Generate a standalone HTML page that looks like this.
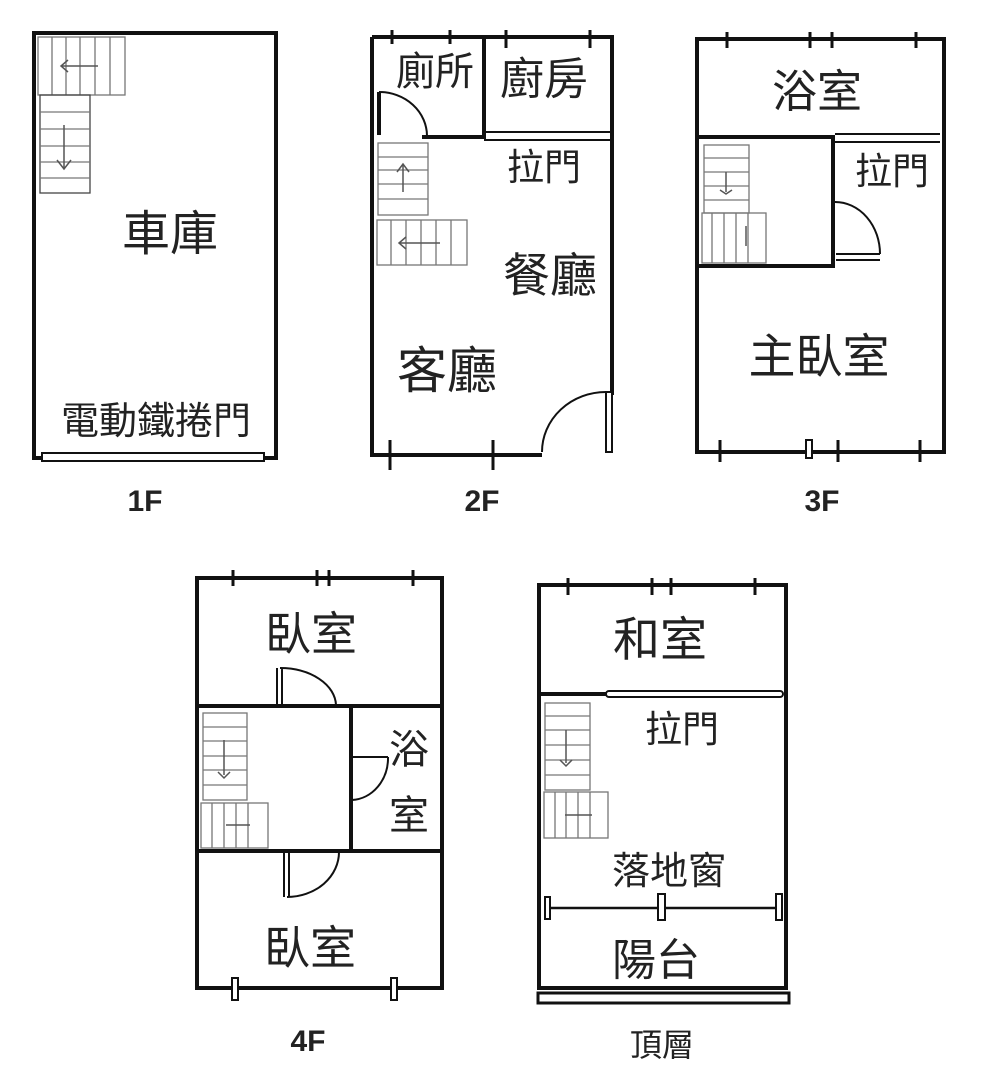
<!DOCTYPE html>
<html><head><meta charset="utf-8"><style>
html,body{margin:0;padding:0;background:#fff}
svg{display:block}
text{font-family:"Liberation Sans","Noto Sans CJK TC",sans-serif;fill:#222}
.w{stroke:#111;stroke-width:4;fill:none}
.t{stroke:#111;stroke-width:2;fill:none}
.s{stroke:#777;stroke-width:1.3;fill:none}
.sd{stroke:#555;stroke-width:1.5;fill:none}
</style></head><body>
<svg width="1000" height="1075" viewBox="0 0 1000 1075" xmlns="http://www.w3.org/2000/svg">
<!-- 1F -->
<rect class="w" x="34" y="33" width="242" height="425"/>
<rect x="42" y="453" width="222" height="8" fill="#fff" stroke="#111" stroke-width="2"/>
<g class="s">
<rect x="38" y="37" width="87" height="58"/>
<line x1="52" y1="37" x2="52" y2="95"/><line x1="66" y1="37" x2="66" y2="95"/><line x1="80" y1="37" x2="80" y2="95"/><line x1="95" y1="37" x2="95" y2="95"/><line x1="110" y1="37" x2="110" y2="95"/>
</g>
<path class="sd" d="M98 66 H62 M68 60 L61 66 L68 72"/>
<g class="s" stroke="#444">
<rect x="40" y="95" width="50" height="98" stroke="#444"/>
<line x1="40" y1="112" x2="90" y2="112"/><line x1="40" y1="129" x2="90" y2="129"/><line x1="40" y1="146" x2="90" y2="146"/><line x1="40" y1="162" x2="90" y2="162"/><line x1="40" y1="178" x2="90" y2="178"/>
</g>
<path class="sd" d="M64 125 V168 M57 160 L64 169 L71 160"/>
<text x="170" y="250" font-size="48" text-anchor="middle">車庫</text>
<text x="156" y="434" font-size="38" text-anchor="middle">電動鐵捲門</text>
<text x="145" y="511" font-size="30" font-weight="bold" text-anchor="middle">1F</text>

<!-- 2F -->
<path class="w" d="M372 37 H612 V395"/>
<path class="w" d="M372 37 V455 H542"/>
<rect x="606" y="392" width="6" height="60" fill="#fff" stroke="#111" stroke-width="2"/>
<path class="t" d="M542 452 A64 60 0 0 1 606 392"/>
<g stroke="#111" stroke-width="3"><line x1="392" y1="30" x2="392" y2="44"/><line x1="450" y1="30" x2="450" y2="44"/><line x1="506" y1="30" x2="506" y2="48"/><line x1="590" y1="30" x2="590" y2="48"/>
<line x1="390" y1="440" x2="390" y2="470"/><line x1="493" y1="440" x2="493" y2="470"/></g>
<path class="w" d="M484 37 V137 H422" stroke-width="3"/>
<path class="t" d="M484 132 H610 M484 140 H610"/>
<path stroke="#111" stroke-width="4" d="M379 92 V135"/>
<path class="t" d="M379 92 A48 44 0 0 1 427 136"/>
<g class="s" stroke="#555"><rect x="378" y="143" width="50" height="72"/>
<line x1="378" y1="157" x2="428" y2="157"/><line x1="378" y1="170" x2="428" y2="170"/><line x1="378" y1="184" x2="428" y2="184"/><line x1="378" y1="199" x2="428" y2="199"/></g>
<path class="sd" d="M403 192 V165 M397 172 L403 164 L409 172"/>
<g class="s"><rect x="377" y="220" width="90" height="45"/>
<line x1="391" y1="220" x2="391" y2="265"/><line x1="406" y1="220" x2="406" y2="265"/><line x1="421" y1="220" x2="421" y2="265"/><line x1="436" y1="220" x2="436" y2="265"/><line x1="451" y1="220" x2="451" y2="265"/></g>
<path class="sd" d="M440 243 H400 M406 237 L399 243 L406 249"/>
<text x="435" y="85" font-size="39" text-anchor="middle">廁所</text>
<text x="544" y="94" font-size="44" text-anchor="middle">廚房</text>
<text x="544" y="180" font-size="37" text-anchor="middle">拉門</text>
<text x="550" y="292" font-size="47" text-anchor="middle">餐廳</text>
<text x="447" y="388" font-size="50" text-anchor="middle">客廳</text>
<text x="482" y="511" font-size="30" font-weight="bold" text-anchor="middle">2F</text>

<!-- 3F -->
<rect class="w" x="697" y="39" width="247" height="413"/>
<g stroke="#111" stroke-width="3"><line x1="727" y1="32" x2="727" y2="48"/><line x1="810" y1="32" x2="810" y2="48"/><line x1="832" y1="32" x2="832" y2="48"/><line x1="916" y1="32" x2="916" y2="48"/>
<line x1="720" y1="440" x2="720" y2="462"/><line x1="838" y1="440" x2="838" y2="462"/><line x1="920" y1="440" x2="920" y2="462"/></g>
<rect x="806" y="440" width="6" height="18" fill="#fff" stroke="#111" stroke-width="2"/>
<path class="t" d="M835 134 H940 M835 142 H940"/>
<path class="w" d="M697 137 H833 V266 H697"/>
<path class="t" d="M835 202 A45 52 0 0 1 880 254 M836 254 H880 M836 260 H880"/>
<g class="s" stroke="#444"><rect x="704" y="145" width="45" height="68"/>
<line x1="704" y1="158" x2="749" y2="158"/><line x1="704" y1="172" x2="749" y2="172"/><line x1="704" y1="186" x2="749" y2="186"/><line x1="704" y1="200" x2="749" y2="200"/></g>
<path class="sd" d="M726 172 V192 M720 190 L726 194 L732 190"/>
<g class="s"><rect x="702" y="213" width="64" height="50"/>
<line x1="712" y1="213" x2="712" y2="263"/><line x1="724" y1="213" x2="724" y2="263"/><line x1="736" y1="213" x2="736" y2="263"/><line x1="748" y1="213" x2="748" y2="263"/></g>
<path class="sd" d="M746 226 V246"/>
<text x="817" y="107" font-size="45" text-anchor="middle">浴室</text>
<text x="892" y="184" font-size="37" text-anchor="middle">拉門</text>
<text x="819" y="373" font-size="47" text-anchor="middle">主臥室</text>
<text x="822" y="511" font-size="30" font-weight="bold" text-anchor="middle">3F</text>

<!-- 4F -->
<rect class="w" x="197" y="578" width="245" height="410"/>
<g stroke="#111" stroke-width="3"><line x1="233" y1="570" x2="233" y2="586"/><line x1="317" y1="570" x2="317" y2="586"/><line x1="329" y1="570" x2="329" y2="586"/><line x1="413" y1="570" x2="413" y2="586"/></g>
<rect x="232" y="978" width="6" height="22" fill="#fff" stroke="#111" stroke-width="2"/>
<rect x="391" y="978" width="6" height="22" fill="#fff" stroke="#111" stroke-width="2"/>
<path class="w" d="M197 706 H442 M197 851 H442"/>
<path class="w" d="M351 708 V851"/>
<path class="t" d="M277 668 V705 M282 668 V705 M280 668 A56 38 0 0 1 336 705"/>
<path class="t" d="M284 853 V897 M289 853 V897 M287 897 A52 45 0 0 0 339 852"/>
<path class="t" d="M351 757 H388 M388 757 A38 42 0 0 1 352 800"/>
<g class="s" stroke="#444"><rect x="203" y="713" width="44" height="87"/>
<line x1="203" y1="727" x2="247" y2="727"/><line x1="203" y1="741" x2="247" y2="741"/><line x1="203" y1="756" x2="247" y2="756"/><line x1="203" y1="770" x2="247" y2="770"/><line x1="203" y1="785" x2="247" y2="785"/></g>
<path class="sd" d="M224 740 V775 M218 772 L224 778 L230 772"/>
<g class="s"><rect x="201" y="803" width="67" height="45"/>
<line x1="212" y1="803" x2="212" y2="848"/><line x1="224" y1="803" x2="224" y2="848"/><line x1="236" y1="803" x2="236" y2="848"/><line x1="248" y1="803" x2="248" y2="848"/></g>
<path class="sd" d="M226 825 H250"/>
<text x="311" y="650" font-size="46" text-anchor="middle">臥室</text>
<text x="409" y="763" font-size="40" text-anchor="middle">浴</text>
<text x="409" y="829" font-size="40" text-anchor="middle">室</text>
<text x="310" y="964" font-size="46" text-anchor="middle">臥室</text>
<text x="308" y="1051" font-size="30" font-weight="bold" text-anchor="middle">4F</text>

<!-- 頂層 -->
<rect class="w" x="539" y="585" width="247" height="403"/>
<rect x="538" y="993" width="251" height="10" fill="#fff" stroke="#111" stroke-width="3"/>
<g stroke="#111" stroke-width="3"><line x1="568" y1="578" x2="568" y2="595"/><line x1="652" y1="578" x2="652" y2="595"/><line x1="671" y1="578" x2="671" y2="595"/><line x1="755" y1="578" x2="755" y2="595"/></g>
<path class="w" d="M539 694 H606" stroke-width="3"/>
<rect x="606" y="691" width="177" height="6" rx="3" fill="#fff" stroke="#111" stroke-width="2"/>
<g class="s" stroke="#444"><rect x="545" y="703" width="45" height="87"/>
<line x1="545" y1="716" x2="590" y2="716"/><line x1="545" y1="730" x2="590" y2="730"/><line x1="545" y1="745" x2="590" y2="745"/><line x1="545" y1="760" x2="590" y2="760"/><line x1="545" y1="775" x2="590" y2="775"/></g>
<path class="sd" d="M566 730 V763 M560 760 L566 766 L572 760"/>
<g class="s"><rect x="544" y="792" width="64" height="46"/>
<line x1="555" y1="792" x2="555" y2="838"/><line x1="566" y1="792" x2="566" y2="838"/><line x1="578" y1="792" x2="578" y2="838"/><line x1="590" y1="792" x2="590" y2="838"/></g>
<path class="sd" d="M565 815 H592"/>
<path stroke="#111" stroke-width="2.5" d="M550 908 H776"/>
<rect x="545" y="897" width="5" height="22" fill="#fff" stroke="#111" stroke-width="2"/>
<rect x="658" y="894" width="7" height="26" fill="#fff" stroke="#111" stroke-width="2"/>
<rect x="776" y="894" width="6" height="26" fill="#fff" stroke="#111" stroke-width="2"/>
<text x="660" y="656" font-size="47" text-anchor="middle">和室</text>
<text x="682" y="742" font-size="37" text-anchor="middle">拉門</text>
<text x="669" y="884" font-size="38" text-anchor="middle">落地窗</text>
<text x="656" y="975" font-size="44" text-anchor="middle">陽台</text>
<text x="662" y="1056" font-size="32" text-anchor="middle">頂層</text>
</svg>
</body></html>
